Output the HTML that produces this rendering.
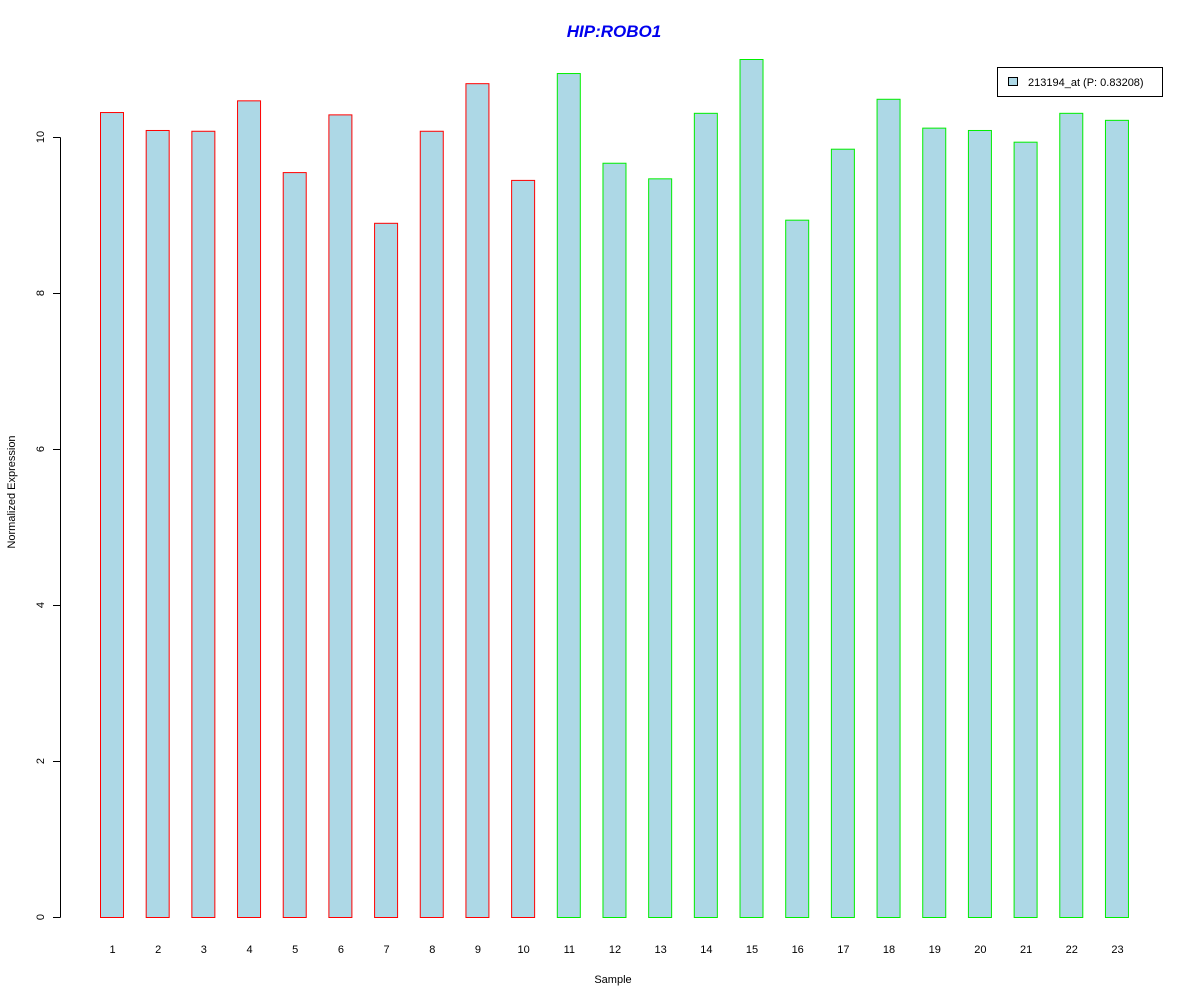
<!DOCTYPE html>
<html><head><meta charset="utf-8"><style>
body{margin:0;background:#fff}
text{font-family:"Liberation Sans",Arial,sans-serif}
</style></head><body>
<svg id="chart" width="1200" height="1000" xmlns="http://www.w3.org/2000/svg">
<rect width="1200" height="1000" fill="#fff"/>
<text x="614" y="37" text-anchor="middle" font-size="17" font-weight="bold" font-style="italic" fill="#0000ee">HIP:ROBO1</text>
<g id="yaxis"></g>
<g id="bars"></g>
<g id="xlabels"></g>
<text x="613" y="983" text-anchor="middle" font-size="11">Sample</text>
<text transform="translate(15,492) rotate(-90)" text-anchor="middle" font-size="11">Normalized Expression</text>
<g>
<rect x="997.5" y="67.5" width="165" height="29" fill="#fff" stroke="#000"/>
<rect x="1008.5" y="77.5" width="9" height="8" fill="#add8e6" stroke="#000"/>
<text x="1028" y="86" font-size="11">213194_at (P: 0.83208)</text>
</g>
</svg>
<script>
const categories=["1","2","3","4","5","6","7","8","9","10","11","12","13","14","15","16","17","18","19","20","21","22","23"];
const values=[10.32,10.09,10.08,10.47,9.55,10.29,8.90,10.08,10.69,9.45,10.82,9.67,9.47,10.31,11.0,8.94,9.85,10.49,10.12,10.09,9.94,10.31,10.22];
const groups=["a","a","a","a","a","a","a","a","a","a","b","b","b","b","b","b","b","b","b","b","b","b","b"];
const yTicks=[0,2,4,6,8,10];
const NS="http://www.w3.org/2000/svg";
const y=v=>917-v*78;
const x=i=>100+i*45.68;
const bw=23;
function mk(t,a){const e=document.createElementNS(NS,t);for(const k in a)e.setAttribute(k,a[k]);return e;}
const ya=document.getElementById('yaxis');
ya.appendChild(mk('line',{x1:60.5,x2:60.5,y1:y(10)+.5,y2:y(0)+.5,stroke:'#000'}));
yTicks.forEach(t=>{
 const l=mk('line',{x1:53,x2:60.5,y1:y(t)+.5,y2:y(t)+.5,stroke:'#000'});
 
 
 ya.appendChild(l);
 const tx=mk('text',{transform:`translate(44,${y(t)}) rotate(-90)`,'text-anchor':'middle','font-size':11});
 
 
 tx.textContent=t;ya.appendChild(tx);
});
const bg=document.getElementById('bars'),xl=document.getElementById('xlabels');
values.forEach((v,i)=>{
 const r=mk('rect',{x:x(i)+.5,y:y(v)+.5,width:bw,height:y(0)-y(v),fill:'#add8e6',stroke:groups[i]==='a'?'#ff0000':'#00ee00'});
 
 
 bg.appendChild(r);
 const t=mk('text',{x:x(i)+bw/2+1,y:953,'text-anchor':'middle','font-size':11});
 
 
 t.textContent=categories[i];xl.appendChild(t);
});
</script>
</body></html>
